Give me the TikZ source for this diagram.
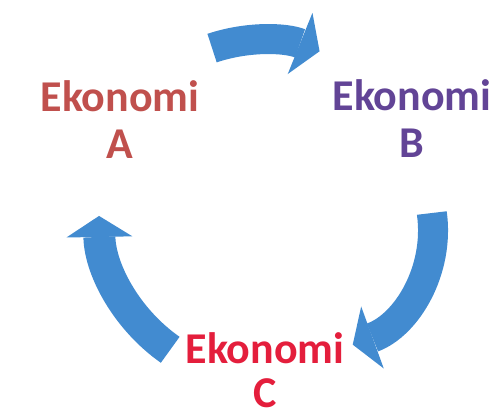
\documentclass[tikz,border=0pt]{standalone}
\usepackage{fontspec}
\setmainfont{Carlito}
\usetikzlibrary{arrows.meta}

\definecolor{flowblue}{RGB}{66,139,208}
\definecolor{econa}{RGB}{192,80,77}
\definecolor{econb}{RGB}{98,68,150}
\definecolor{econc}{RGB}{228,30,60}

\begin{document}
\begin{tikzpicture}[x=1pt, y=1pt,
    econ/.style={inner sep=0pt, align=center, anchor=base, text depth=0pt, font=\fontsize{44}{47}\selectfont\bfseries},
    flow/.style={draw=flowblue, line width=30pt, -{Triangle[length=21pt, width=66pt, line width=0pt]}}
]
\useasboundingbox (0,0) rectangle (494,-418);

% Economies
\node[econ, text=econa] (econ-a) at (120,-158) {Ekonomi\\A};
\node[econ, text=econb] (econ-b) at (412,-157) {Ekonomi\\B};
\node[econ, text=econc, font=\fontsize{44}{44}\selectfont\bfseries] (econ-c) at (265,-407) {Ekonomi\\C};

% Centres of the arrows
\coordinate (ab-centre) at (261.5,-195);
\coordinate (bc-centre) at (311,-230);
\coordinate (ca-centre) at (266,-213);

% Cycle arrows
\draw[flow] (ab-centre) ++(108.6:155) arc[start angle=108.6, end angle=68, radius=155];
\draw[flow] (bc-centre) ++(8:122) arc[start angle=8, end angle=-70, radius=122];
\draw[flow, line width=32pt] (ca-centre) ++(235:167) arc[start angle=235, end angle=181, radius=167];

\end{tikzpicture}
\end{document}
